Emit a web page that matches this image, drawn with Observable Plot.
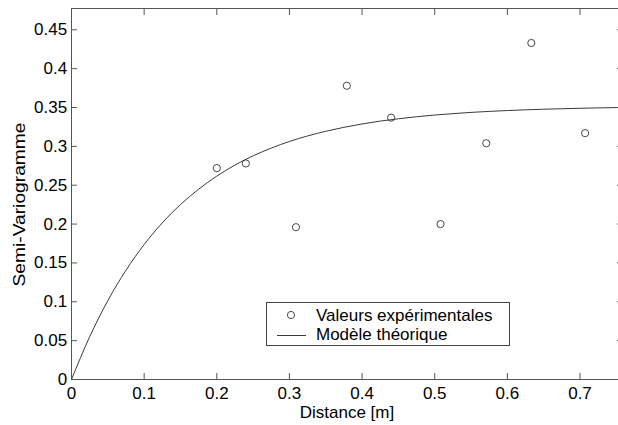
<!DOCTYPE html>
<html>
<head>
<meta charset="utf-8">
<script src="https://cdn.jsdelivr.net/npm/d3@7"></script>
<script src="https://cdn.jsdelivr.net/npm/@observablehq/plot@0.6"></script>
<style>
  body { margin: 0; background: #fff; }
  #wrap { position: relative; width: 618px; height: 425px; overflow: hidden; background: #fff; }
  #legend { position: absolute; left: 266px; top: 302px; }
</style>
</head>
<body>
<div id="wrap"></div>
<script>
// Experimental semi-variogram values
const expDistance = [0.200, 0.240, 0.309, 0.379, 0.440, 0.508, 0.571, 0.633, 0.707];
const expGamma    = [0.272, 0.278, 0.196, 0.378, 0.337, 0.200, 0.304, 0.433, 0.317];

// Theoretical model curve
const modelDistance = [0, 0.025, 0.05, 0.075, 0.1, 0.125, 0.15, 0.175, 0.2, 0.225, 0.25, 0.275, 0.3,
  0.325, 0.35, 0.375, 0.4, 0.425, 0.45, 0.475, 0.5, 0.525, 0.55, 0.575, 0.6, 0.625, 0.65, 0.675,
  0.7, 0.725, 0.75, 0.76];
const modelGamma = [0, 0.0550, 0.1014, 0.1406, 0.1737, 0.2016, 0.2251, 0.2449, 0.2617, 0.2759, 0.2878,
  0.2978, 0.3063, 0.3134, 0.3194, 0.3245, 0.3288, 0.3325, 0.3355, 0.3381, 0.3403, 0.3421, 0.3437,
  0.3450, 0.3461, 0.3470, 0.3478, 0.3484, 0.3490, 0.3495, 0.3499, 0.3500];

const xTicks = [0, 0.1, 0.2, 0.3, 0.4, 0.5, 0.6, 0.7];
const xTickLabels = ["0", "0.1", "0.2", "0.3", "0.4", "0.5", "0.6", "0.7"];
const yTicks = [0, 0.05, 0.1, 0.15, 0.2, 0.25, 0.3, 0.35, 0.4, 0.45];
const yTickLabels = ["0", "0.05", "0.1", "0.15", "0.2", "0.25", "0.3", "0.35", "0.4", "0.45"];

const xLabel = "Distance [m]";
const yLabel = "Semi-Variogramme";
const legendLabels = ["Valeurs expérimentales", "Modèle théorique"];

const FONT = '"Liberation Sans", Arial, Helvetica, sans-serif';
const AXIS = "#555";

const chart = Plot.plot({
  width: 618,
  height: 425,
  marginLeft: 71,
  marginRight: -4,
  marginTop: 8,
  marginBottom: 46,
  style: { fontFamily: FONT, fontSize: "17px", color: "#000", background: "#fff" },
  x: { domain: [0, 0.7585], axis: null },
  y: { domain: [0, 0.4774], axis: null },
  marks: [
    Plot.frame({ stroke: AXIS, strokeWidth: 1 }),
    Plot.axisX(xTicks, { anchor: "bottom", tickSize: -6, tickPadding: 13.5, stroke: AXIS, label: null,
      tickFormat: d => xTickLabels[xTicks.indexOf(d)] }),
    Plot.axisX(xTicks, { anchor: "top", tickSize: -6, stroke: AXIS, fill: "none", label: null }),
    Plot.axisY(yTicks, { anchor: "left", tickSize: -6, tickPadding: 10.3, stroke: AXIS, label: null,
      tickFormat: d => yTickLabels[yTicks.indexOf(d)] }),
    Plot.axisY(yTicks, { anchor: "right", tickSize: -6, stroke: AXIS, fill: "none", label: null }),
    Plot.line(modelGamma, { x: modelDistance, y: modelGamma, curve: "monotone-x",
      stroke: "#3a3a3a", strokeWidth: 1, clip: true }),
    Plot.dot(expGamma, { x: expDistance, y: expGamma, r: 3.6, stroke: "#333", strokeWidth: 0.9, fill: "none" })
  ]
});

const svg = d3.select(chart);
svg.append("text")
  .attr("x", 347).attr("y", 418)
  .attr("text-anchor", "middle")
  .attr("font-family", FONT).attr("font-size", 17).attr("fill", "#000")
  .text(xLabel);
svg.append("text")
  .attr("transform", "translate(24.5,204.5) rotate(-90)")
  .attr("text-anchor", "middle")
  .attr("font-family", FONT).attr("font-size", 17).attr("fill", "#000")
  .attr("textLength", 164).attr("lengthAdjust", "spacingAndGlyphs")
  .text(yLabel);

const wrap = document.getElementById("wrap");
wrap.appendChild(chart);

// Legend
const leg = d3.select(wrap).append("svg")
  .attr("id", "legend")
  .attr("width", 245).attr("height", 46);
leg.append("rect").attr("x", 0.5).attr("y", 0.5).attr("width", 243).attr("height", 43)
  .attr("fill", "#fff").attr("stroke", "#444").attr("stroke-width", 1);
leg.append("circle").attr("cx", 25).attr("cy", 13).attr("r", 3.6)
  .attr("fill", "none").attr("stroke", "#333").attr("stroke-width", 0.9);
leg.append("line").attr("x1", 11).attr("x2", 40).attr("y1", 33.5).attr("y2", 33.5)
  .attr("stroke", "#3a3a3a").attr("stroke-width", 1);
leg.selectAll("text.lbl").data(legendLabels).join("text")
  .attr("class", "lbl")
  .attr("x", 50).attr("y", (d, i) => 18.5 + i * 19.5)
  .attr("font-family", FONT).attr("font-size", 17).attr("fill", "#000")
  .text(d => d);
</script>
</body>
</html>
